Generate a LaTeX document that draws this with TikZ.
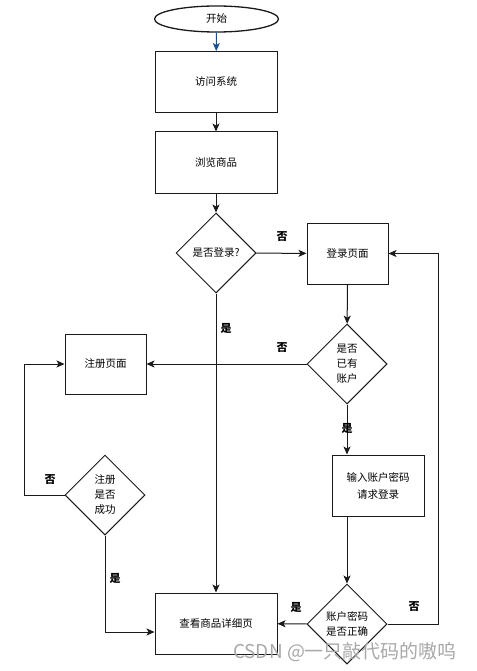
\documentclass[tikz,border=0pt]{standalone}
\usepackage{fontspec}
\setmainfont{Noto Sans CJK SC}
\usetikzlibrary{arrows.meta,shapes.geometric}
\definecolor{startarrow}{HTML}{1B4F8A}
\definecolor{frameline}{HTML}{1A1A1A}
\definecolor{marktext}{HTML}{A8A8A8}

\begin{document}
\begin{tikzpicture}[x=1pt,y=-1pt,font=\fontsize{10.5}{15}\selectfont,
terminal/.style={draw=frameline,ellipse,line width=1.3pt,minimum width=124pt,minimum height=26pt,inner sep=0pt},
stepbox/.style={draw=frameline,line width=1pt,minimum width=122pt,minimum height=61pt,align=center,inner sep=0pt},
smallbox/.style={stepbox,minimum width=81pt},
decision/.style={draw=frameline,diamond,aspect=1,line width=1pt,minimum width=80pt,minimum height=80pt,align=center,inner sep=0pt},
arrow/.style={-{Stealth[length=8pt,width=7pt,inset=2pt]},line width=1pt,draw=frameline},
answer/.style={font=\fontsize{11}{12}\selectfont\bfseries}]
\useasboundingbox (0,0) rectangle (476,671);
\node[terminal] (start) at (216.5,19) {开始};
\node[stepbox] (visit) at (216,82) {访问系统};
\node[stepbox] (browse) at (216,162.5) {浏览商品};
\node[decision] (logged) at (216,253) {是否登录?};
\node[smallbox] (loginpage) at (347.5,253.5) {登录页面};
\node[decision] (hasacct) at (347,364) {是否\\已有\\账户};
\node[smallbox,minimum height=60pt] (regpage) at (105.5,364) {注册页面};
\node[decision] (regok) at (105,495) {注册\\是否\\成功};
\node[smallbox,minimum width=92pt,font=\fontsize{10.5}{17}\selectfont] (input) at (378,485.5) {输入账户密码\\请求登录};
\node[decision] (check) at (347,624) {账户密码\\是否正确};
\node[stepbox] (detail) at (216,623.5) {查看商品详细页};
\coordinate (retry) at (438,624);
\coordinate (regloop) at (24,495);
\coordinate (regjoin) at (105,632);
% main line
\draw[arrow,draw=startarrow] (start) -- (visit);
\draw[arrow] (visit) -- (browse);
\draw[arrow] (browse) -- (logged);
\draw[arrow] (logged) -- (loginpage);
\draw[arrow] (logged) -- (detail);
\draw[arrow] (loginpage) -- (hasacct);
\draw[arrow] (hasacct) -- (regpage);
\draw[arrow] (hasacct.south) -- (hasacct.south |- input.north);
\draw[arrow] (check.north |- input.south) -- (check.north);
\draw[arrow] (check) -- (detail);
\draw[arrow] (check.east) -- (retry) |- (loginpage.east);
% register loop
\draw[arrow] (regok.west) -- (regloop) |- (regpage.west);
\draw[arrow] (regok.south) -- (regjoin) -- (detail.west |- regjoin);
% answers
\node[answer] (noA) at (282,237) {否};
\node[answer] (yesA) at (226,328) {是};
\node[answer] (noB) at (282,348) {否};
\node[answer] (yesB) at (347,428) {是};
\node[answer] (noC) at (50,480) {否};
\node[answer] (yesC) at (115,578) {是};
\node[answer] (yesD) at (296,607) {是};
\node[answer] (noD) at (414,607) {否};
\node[text=marktext,font=\fontsize{19}{21}\selectfont] (mark) at (345,652) {CSDN @一只敲代码的嗷呜};
\end{tikzpicture}
\end{document}
